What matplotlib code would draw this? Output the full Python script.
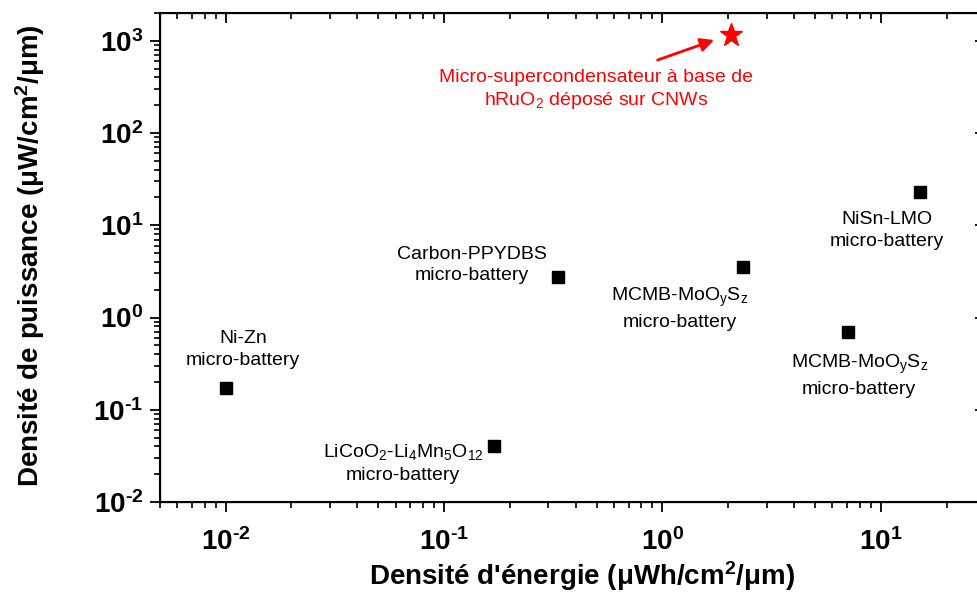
import math
import matplotlib
matplotlib.use("Agg")
import matplotlib.pyplot as plt
from matplotlib.ticker import LogLocator, FuncFormatter, NullFormatter

plt.rcParams['font.family'] = ['Liberation Sans', 'DejaVu Sans']
plt.rcParams['mathtext.default'] = 'regular'
plt.rcParams['mathtext.fontset'] = 'custom'
plt.rcParams['mathtext.rm'] = 'Liberation Sans:bold'
plt.rcParams['mathtext.bf'] = 'Liberation Sans:bold'
plt.rcParams['axes.unicode_minus'] = False

# ---- data ----
batt_names = ["Ni-Zn", "LiCoO2-Li4Mn5O12", "Carbon-PPYDBS",
              "MCMB-MoOySz (1)", "MCMB-MoOySz (2)", "NiSn-LMO"]
batt_energy = [0.01, 0.17, 0.334, 2.35, 7.08, 15.1]
batt_power = [0.17, 0.040, 2.75, 3.55, 0.69, 23.0]

sc_energy = [2.05]
sc_power = [1150]

label_texts = [
    "Ni-Zn\nmicro-battery",
    "LiCoO$_2$-Li$_4$Mn$_5$O$_{12}$\nmicro-battery",
    "Carbon-PPYDBS\nmicro-battery",
    "MCMB-MoO$_y$S$_z$\nmicro-battery",
    "MCMB-MoO$_y$S$_z$\nmicro-battery",
    "NiSn-LMO\nmicro-battery",
]
label_x = [0.012, 0.0648, 0.1336, 1.20, 7.96, 10.65]
label_y = [0.453, 0.0264, 3.72, 1.26, 0.237, 8.79]

sc_text = "Micro-supercondensateur à base de\nhRuO$_2$ déposé sur CNWs"
sc_text_xy = (0.498, 290)
arrow_tail = (0.95, 618)
arrow_head = (1.725, 1018)

xlim = (0.005, 30)
ylim = (0.01, 2000)

W, H = 977, 594
fig = plt.figure(figsize=(W / 100, H / 100), dpi=100)
ax = fig.add_axes([160 / W, (H - 502) / H, 825 / W, 489 / H])

ax.plot(batt_energy, batt_power, 's', color='black', ms=8, zorder=3)
ax.plot(sc_energy, sc_power, '*', color='red', ms=17, zorder=3)

ax.set_xscale('log')
ax.set_yscale('log')
ax.set_xlim(*xlim)
ax.set_ylim(*ylim)

for t, x, y in zip(label_texts, label_x, label_y):
    ax.text(x, y, t, ha='center', va='center', fontsize=14,
            multialignment='center', linespacing=1.35)

ax.text(*sc_text_xy, sc_text, ha='center', va='center', fontsize=14,
        color='red', multialignment='center', linespacing=1.25)
ax.annotate('', xy=arrow_head, xytext=arrow_tail,
            arrowprops=dict(arrowstyle='-|>', color='red', lw=2.0,
                            mutation_scale=20, shrinkA=0, shrinkB=0))


def _fmt(v, p):
    e = round(math.log10(v))
    s = ('-' if e < 0 else '') + str(abs(e))
    return r'$10^{\text{%s}}$' % s


fmt = FuncFormatter(_fmt)
for axis in (ax.xaxis, ax.yaxis):
    axis.set_major_locator(LogLocator(base=10, numticks=20))
    axis.set_minor_locator(LogLocator(base=10, subs=range(2, 10), numticks=20))
    axis.set_minor_formatter(NullFormatter())
    axis.set_major_formatter(fmt)

for s in ax.spines.values():
    s.set_linewidth(1.5)

ax.tick_params(which='major', direction='out', length=7, width=1.3,
               labelsize=20)
ax.tick_params(which='minor', direction='out', length=4, width=1.2)
ax.tick_params(axis='x', which='major', pad=12)
ax.tick_params(axis='y', which='major', pad=5)
for lab in ax.get_xticklabels() + ax.get_yticklabels():
    lab.set_fontweight('bold')

# top ticks (inward)
axt = ax.twiny()
axt.set_xscale('log')
axt.set_xlim(*xlim)
axt.xaxis.set_major_locator(LogLocator(base=10, numticks=20))
axt.xaxis.set_minor_locator(LogLocator(base=10, subs=range(2, 10), numticks=20))
axt.tick_params(which='major', direction='in', length=7, width=1.3, labeltop=False)
axt.tick_params(which='minor', direction='in', length=4, width=1.2)
axt.xaxis.set_minor_formatter(NullFormatter())

# right ticks (inward)
axr = ax.twinx()
axr.set_yscale('log')
axr.set_ylim(*ylim)
axr.yaxis.set_major_locator(LogLocator(base=10, numticks=20))
axr.yaxis.set_minor_locator(LogLocator(base=10, subs=range(2, 10), numticks=20))
axr.tick_params(which='major', direction='in', length=7, width=1.3, labelright=False)
axr.tick_params(which='minor', direction='in', length=4, width=1.2)
axr.yaxis.set_minor_formatter(NullFormatter())

fig.text(582 / W, 1 - 576 / H, "Densité d'énergie (μWh/cm$^2$/μm)",
         ha='center', va='center', fontsize=20, fontweight='bold')
fig.text(30 / W, 1 - 256 / H, "Densité de puissance (μW/cm$^2$/μm)",
         ha='center', va='center', fontsize=20, fontweight='bold', rotation=90)

fig.savefig('out.png', dpi=100)
